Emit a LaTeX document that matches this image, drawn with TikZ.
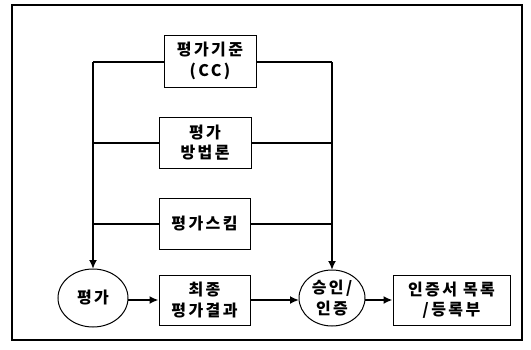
\documentclass[tikz,border=0pt]{standalone}
\usepackage{fontspec}
\setmainfont{Noto Sans CJK KR}[LetterSpace=15]
\usetikzlibrary{arrows.meta}
\begin{document}
\begin{tikzpicture}[x=1pt,y=-1pt,
  txt/.style={align=center,inner sep=0pt,font=\fontsize{16}{20.5}\selectfont\bfseries},
  box/.style={txt,draw,line width=1pt},
  wire/.style={line width=2pt},
  arr/.style={line width=2pt,-{Latex[length=9pt,width=8pt]}}]
\useasboundingbox (0,0) rectangle (531,349);
\draw[line width=1.2pt] (12,5) rectangle (522,340);
\node[box,minimum width=92pt,minimum height=52pt] (b1) at (210,61) {평가기준\\(CC)};
\node[box,minimum width=92pt,minimum height=51pt] (b2) at (205,142.5) {평가\\방법론};
\node[box,minimum width=91pt,minimum height=51pt] (b3) at (204.5,223.5) {평가스킴};
\node[box,minimum width=91pt,minimum height=50pt] (b4) at (204.5,300) {최종\\평가결과};
\node[box,minimum width=117pt,minimum height=50pt] (b5) at (451.5,300) {인증서 목록\\/등록부};
\draw[line width=1pt] (93,298) ellipse [x radius=35, y radius=29];
\node[txt] (ev) at (93,298) {평가};
\coordinate (evn) at (93,269);
\coordinate (eve) at (128,300);
\draw[line width=1pt] (332,298) ellipse [x radius=33, y radius=28];
\node[txt] (ap) at (332,298) {승인/\\인증};
\coordinate (apn) at (332,270);
\coordinate (apw) at (299,300);
\coordinate (ape) at (365,300);
\coordinate (tl) at (93,62);
\coordinate (tr) at (332,62);
\draw[wire] (b1.west |- tl) -- (tl);
\draw[wire] (b1.east |- tr) -- (tr);
\draw[wire] (b2.west) -- (b2.west -| tl);
\draw[wire] (b2.east) -- (b2.east -| tr);
\draw[wire] (b3.west) -- (b3.west -| tl);
\draw[wire] (b3.east) -- (b3.east -| tr);
\draw[arr] (tl) -- (evn);
\draw[arr] (tr) -- (apn);
\draw[arr] (eve) -- (b4.west);
\draw[arr] (b4.east) -- (apw);
\draw[arr] (ape) -- (b5.west);
\end{tikzpicture}
\end{document}
